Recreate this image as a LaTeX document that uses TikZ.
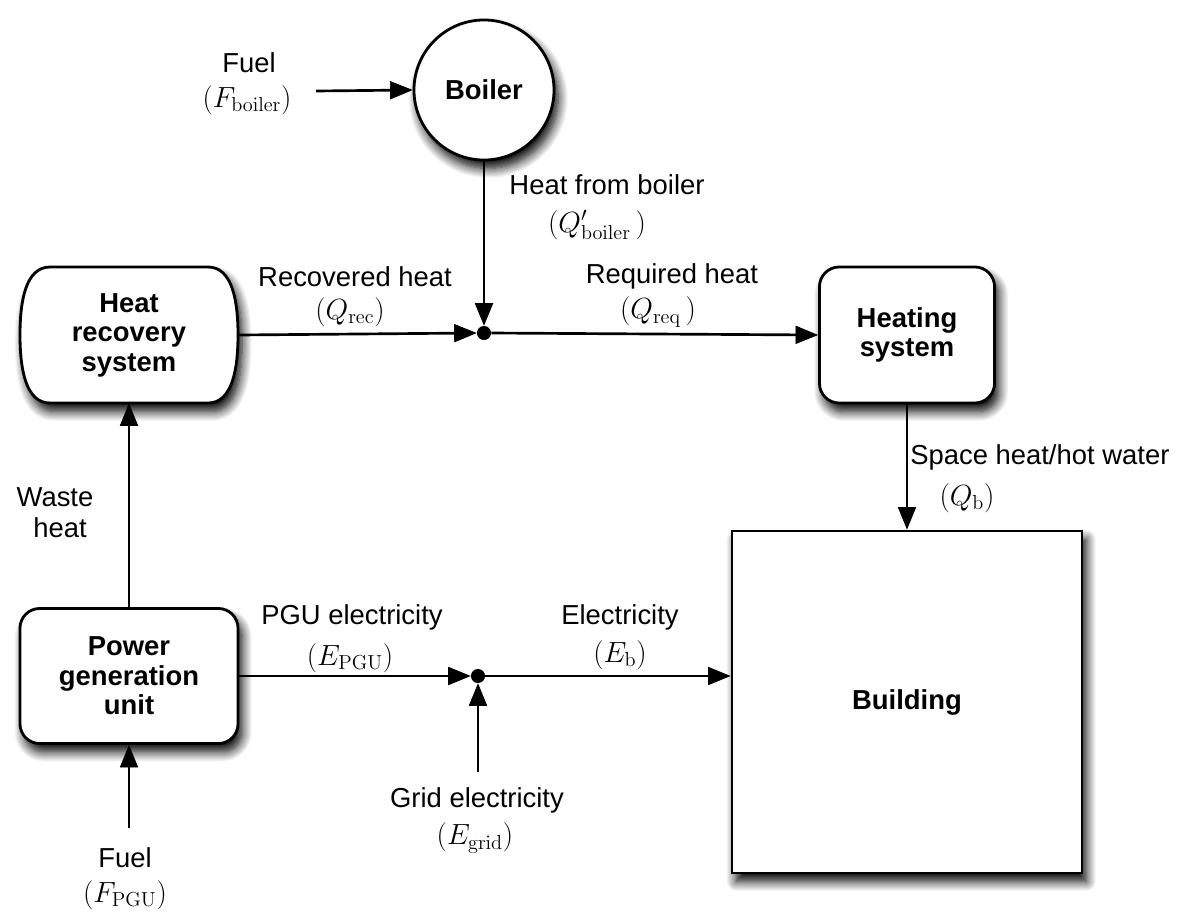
\documentclass[tikz,border=0pt]{standalone}
\usepackage[no-math]{fontspec}
\setmainfont{Liberation Sans}
\usetikzlibrary{arrows.meta,shadows.blur}
\begin{document}
\begin{tikzpicture}[x=0.025cm,y=-0.025cm,
  lbl/.style={font=\fontsize{19.5}{23}\selectfont, inner sep=0pt},
  shd/.style={blur shadow={shadow xshift=3pt, shadow yshift=-6pt, shadow blur radius=7pt, shadow opacity=100, shadow blur steps=10}},
  box/.style={draw, line width=2pt, fill=white, font=\fontsize{19.5}{21}\selectfont\bfseries, align=center, inner sep=0pt, shd},
  arr/.style={draw=black, line width=1.9pt, -{Triangle[length=16pt,width=13pt,fill=black,line width=0.5pt]}},
  dot/.style={circle, fill=black, inner sep=0pt, minimum size=10pt}]
\useasboundingbox (0,0) rectangle (1184,916);

% nodes
\node[box, circle, minimum size=3.5cm] (boiler) at (484,90) {Boiler};
\node[box, rounded corners=14pt, minimum width=4.375cm, minimum height=3.4cm] (hs) at (907,335) {Heating\\system};
\node[box, rounded corners=14pt, minimum width=5.45cm, minimum height=3.375cm] (pgu) at (129,676) {Power\\generation\\unit};
\node[box, minimum width=8.75cm, minimum height=8.55cm] (bld) at (907,702) {Building};
\draw[line width=2pt, fill=white, shd] (50,267) -- (208,267) .. controls (232,267) and (238,300) .. (238,335) .. controls (238,370) and (232,403) .. (208,403) -- (50,403) .. controls (26,403) and (20,370) .. (20,335) .. controls (20,300) and (26,267) .. (50,267) -- cycle;
\node[font=\fontsize{19.5}{21}\selectfont\bfseries, align=center, inner sep=0pt, minimum width=5.45cm, minimum height=3.4cm] (hrs) at (129,335) {Heat\\recovery\\system};

\node[dot] (j1) at (484,333) {};
\node[dot] (j2) at (478,676) {};

\coordinate (fb) at (316,91);
\coordinate (fp) at (129,828);
\coordinate (gr) at (478,772);

% connectors
\draw[arr] (fb) -- (boiler.west);
\draw[arr] (boiler.south) -- (j1.north);
\draw[arr] (hrs.east) -- (j1.west);
\draw[arr] (j1.east) -- (hs.west);
\draw[arr] (hs.south) -- (bld.north);
\draw[arr] (pgu.north) -- (hrs.south);
\draw[arr] (fp) -- (pgu.south);
\draw[arr] (pgu.east) -- (j2.west);
\draw[arr] (gr) -- (j2.south);
\draw[arr] (j2.east) -- (bld.west |- j2);

% labels
\node[lbl] (l1a) at (249,63) {Fuel};
\node[lbl] (l1b) at (247,100) {$(F_{\mathrm{boiler}})$};
\node[lbl] (l2a) at (607,185) {Heat from boiler};
\node[lbl] (l2b) at (597,225) {$(Q'_{\mathrm{boiler}}\,)$};
\node[lbl] (l3a) at (355,277) {Recovered heat};
\node[lbl] (l3b) at (350,312) {$(Q_{\mathrm{rec}})$};
\node[lbl] (l4a) at (672,276) {Required heat};
\node[lbl] (l4b) at (658,312) {$(Q_{\mathrm{req}}\,)$};
\node[lbl, anchor=west] (l5a) at (910,457) {Space heat/hot water};
\node[lbl] (l5b) at (967,498) {$(Q_{\mathrm{b}})$};
\node[lbl] (l6a) at (55,497) {Waste};
\node[lbl] (l6b) at (60,528) {heat};
\node[lbl] (l7a) at (352,617) {PGU electricity};
\node[lbl] (l7b) at (350,658) {$(E_{\mathrm{PGU}})$};
\node[lbl] (l8a) at (620,617) {Electricity};
\node[lbl] (l8b) at (620,655) {$(E_{\mathrm{b}})$};
\node[lbl] (l9a) at (477,800) {Grid electricity};
\node[lbl] (l9b) at (475,838) {$(E_{\mathrm{grid}})$};
\node[lbl] (l10a) at (125,858) {Fuel};
\node[lbl] (l10b) at (125,895) {$(F_{\mathrm{PGU}})$};
\end{tikzpicture}
\end{document}
